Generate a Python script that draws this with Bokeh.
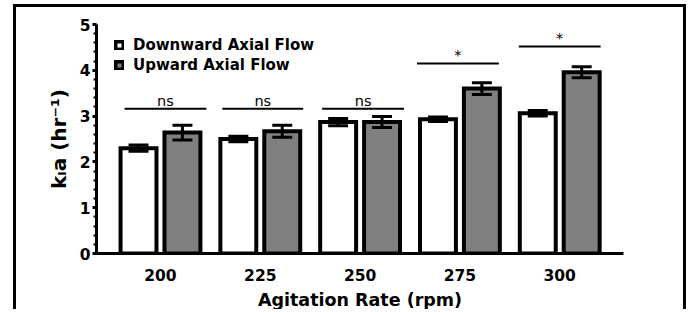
import numpy as np
from bokeh.plotting import figure
from bokeh.models import Range1d, Legend, LegendItem, FixedTicker
from bokeh.core.properties import value
from bokeh.embed import file_html
from bokeh.resources import INLINE

# ---------------- data ----------------
categories = ["200", "225", "250", "275", "300"]
downward_mean = [2.30, 2.50, 2.87, 2.93, 3.06]
downward_err = [0.07, 0.06, 0.08, 0.05, 0.06]
upward_mean = [2.64, 2.67, 2.87, 3.60, 3.96]
upward_err = [0.16, 0.13, 0.12, 0.13, 0.12]
sig_labels = ["ns", "ns", "ns", "*", "*"]
sig_level = [3.16, 3.16, 3.16, 4.15, 4.52]
y_ticks = [0, 1, 2, 3, 4, 5]

# ---------------- layout ----------------
FONT = "DejaVu Sans"
X0, X1 = -0.641, 4.639

idx = np.arange(len(categories))
OFF = 0.22
BAR_W = 0.36
CAP = 0.10
x_down = idx - OFF
x_up = idx + OFF
bracket_left = idx + np.array([-0.36, -0.38, -0.38, -0.43, -0.41])
bracket_right = idx + np.array([0.46, 0.43, 0.44, 0.39, 0.41])

p = figure(width=673, height=305, x_range=Range1d(X0, X1), y_range=Range1d(0, 5),
           output_backend="svg", toolbar_location=None,
           min_border_left=80, min_border_right=66, min_border_top=17, min_border_bottom=58)
# outer frame of the figure (its bottom edge lies outside the picture)
p.styles = {"border-top": "3px solid black", "border-left": "3px solid black",
            "border-right": "3px solid black", "margin-left": "13px", "margin-top": "4px"}
p.outline_line_color = None
p.xgrid.visible = False
p.ygrid.visible = False

# bars
dm = np.array(downward_mean); de = np.array(downward_err)
um = np.array(upward_mean); ue = np.array(upward_err)
r_down = p.vbar(x=x_down, top=dm, bottom=0, width=BAR_W, fill_color="white",
                line_color="black", line_width=4, line_join="miter")
r_up = p.vbar(x=x_up, top=um, bottom=0, width=BAR_W, fill_color="#808080",
              line_color="black", line_width=4, line_join="miter")

# error bars
for xs, m, e in ((x_down, dm, de), (x_up, um, ue)):
    p.segment(x0=xs, y0=m - e, x1=xs, y1=m + e, line_color="black", line_width=3)
    p.segment(x0=xs - CAP, y0=m + e, x1=xs + CAP, y1=m + e, line_color="black", line_width=3)
    p.segment(x0=xs - CAP, y0=m - e, x1=xs + CAP, y1=m - e, line_color="black", line_width=3)

# significance brackets
p.segment(x0=bracket_left, y0=sig_level, x1=bracket_right, y1=sig_level,
          line_color="black", line_width=2)
p.text(x=(bracket_left + bracket_right) / 2, y=sig_level, text=sig_labels,
       text_font=value(FONT), text_font_size="14.5px", text_align="center",
       text_baseline="bottom", y_offset=0, text_color="black")

# axes
p.xaxis.ticker = FixedTicker(ticks=list(idx))
p.xaxis.major_label_overrides = {int(i): c for i, c in zip(idx, categories)}
p.xaxis.major_tick_out = 0
p.xaxis.major_tick_in = 0
p.xaxis.minor_tick_out = 0
p.xaxis.minor_tick_in = 0
p.xaxis.axis_line_width = 3
p.xaxis.major_label_text_font = FONT
p.xaxis.major_label_text_font_style = "bold"
p.xaxis.major_label_text_font_size = "15.5px"
p.xaxis.major_label_text_color = "black"
p.xaxis.major_label_standoff = 15
p.xaxis.axis_label = "Agitation Rate (rpm)"
p.xaxis.axis_label_text_font = FONT
p.xaxis.axis_label_text_font_style = "bold"
p.xaxis.axis_label_text_font_size = "17.5px"
p.xaxis.axis_label_text_color = "black"
p.xaxis.axis_label_standoff = 6

minor = [round(v, 1) for v in np.arange(0, 5.01, 0.2)]
p.yaxis.ticker = FixedTicker(ticks=y_ticks, minor_ticks=minor)
p.yaxis.major_tick_out = 4
p.yaxis.major_tick_in = 0
p.yaxis.minor_tick_out = 3
p.yaxis.minor_tick_in = 0
p.yaxis.major_tick_line_width = 3
p.yaxis.minor_tick_line_width = 2
p.yaxis.axis_line_width = 3
p.yaxis.major_label_text_font = FONT
p.yaxis.major_label_text_font_style = "bold"
p.yaxis.major_label_text_font_size = "15.5px"
p.yaxis.major_label_text_color = "black"
p.yaxis.major_label_standoff = 2
p.yaxis.axis_label = "k\u2097a (hr\u207b\u00b9)"
p.yaxis.axis_label_text_font = FONT
p.yaxis.axis_label_text_font_style = "bold"
p.yaxis.axis_label_text_font_size = "20px"
p.yaxis.axis_label_text_color = "black"
p.yaxis.axis_label_standoff = 6

legend = Legend(items=[LegendItem(label=value("Downward Axial Flow"), renderers=[r_down]),
                       LegendItem(label=value("Upward Axial Flow"), renderers=[r_up])],
                location=(18, 179), padding=0, margin=0, spacing=2,
                glyph_width=10, glyph_height=10, label_height=17, label_standoff=9,
                label_text_font=FONT, label_text_font_style="bold",
                label_text_font_size="15px", label_text_color="black",
                border_line_color=None, background_fill_alpha=0)
p.add_layout(legend)

open("out.html", "w").write(file_html(p, INLINE))
